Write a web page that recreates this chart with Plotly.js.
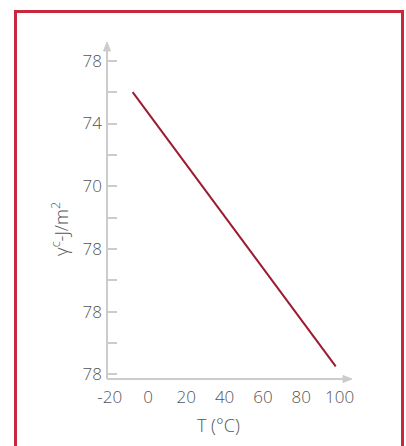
<!DOCTYPE html>
<html>
<head>
<meta charset="utf-8">
<script src="https://cdn.plot.ly/plotly-3.0.1.min.js"></script>
<style>
html,body{margin:0;padding:0;background:#fff;}
#wrap{position:relative;width:406px;height:446px;}
#chart{width:406px;height:446px;}
#frame{position:absolute;left:14px;top:10px;width:384px;height:450px;border:3px solid #c8283c;pointer-events:none;}
</style>
</head>
<body>
<div id="wrap"><div id="chart"></div><div id="frame"></div></div>
<script>
// Data
const temperature = [-8, 98];
const surfaceTension = [76, 58.5];
const yTickValues = [58, 62, 66, 70, 74, 78];
const yTickLabels = ["78", "78", "78", "70", "74", "78"];
const yMinorTicks = [60, 64, 68, 72, 76];
const xTickValues = [-20, 0, 20, 40, 60, 80, 100];
const xTickLabels = ["-20", "0", "20", "40", "60", "80", "100"];

const xRange = [-21.4, 106.5];
const yRange = [57.7, 79.2];
const axisColor = '#cccccc';
const textColor = '#555555';
const fontFam = '"Open Sans", "Source Sans Pro", Lato, sans-serif';
const fsize = 17;

const M = {l: 107, r: 54, t: 42, b: 67};
const plotW = 406 - M.l - M.r, plotH = 446 - M.t - M.b;
const ux = 1 / plotW;   // paper units per pixel
const uy = 1 / plotH;

const headLen = 9, headHalf = 3.5;
const shapes = [
  {type: 'line', xref: 'paper', yref: 'paper', x0: 0, y0: 0, x1: 1 - headLen * ux, y1: 0,
   line: {color: axisColor, width: 2}},
  {type: 'line', xref: 'paper', yref: 'paper', x0: 0, y0: 0, x1: 0, y1: 1 - headLen * uy,
   line: {color: axisColor, width: 2}},
  {type: 'path', xref: 'paper', yref: 'paper', fillcolor: axisColor, line: {color: axisColor, width: 1},
   path: `M1,0 L${1 - headLen * ux},${headHalf * uy} L${1 - headLen * ux},${-headHalf * uy} Z`},
  {type: 'path', xref: 'paper', yref: 'paper', fillcolor: axisColor, line: {color: axisColor, width: 1},
   path: `M0,1 L${-headHalf * ux},${1 - headLen * uy} L${headHalf * ux},${1 - headLen * uy} Z`}
];

const trace = {
  x: temperature, y: surfaceTension, type: 'scatter', mode: 'lines',
  line: {color: '#9b1b30', width: 2}, hoverinfo: 'skip', cliponaxis: false
};

const tf = {family: fontFam, size: fsize, color: textColor, weight: 300};
const titleFont = {family: fontFam, size: 18, color: textColor, weight: 300};

const layout = {
  width: 406, height: 446,
  margin: M,
  paper_bgcolor: '#fff', plot_bgcolor: '#fff',
  showlegend: false,
  font: tf,
  xaxis: {
    range: xRange, showgrid: false, zeroline: false, showline: false,
    tickvals: xTickValues, ticktext: xTickLabels, ticks: '',
    ticklabelstandoff: 6,
    tickfont: tf, fixedrange: true
  },
  yaxis: {
    range: yRange, showgrid: false, zeroline: false, showline: false,
    tickvals: yTickValues, ticktext: yTickLabels,
    ticks: 'inside', ticklen: 10, tickwidth: 2, tickcolor: axisColor,
    ticklabelstandoff: 4,
    minor: {tickvals: yMinorTicks, ticks: 'inside', ticklen: 10, tickwidth: 2, tickcolor: axisColor},
    tickfont: tf, fixedrange: true
  },
  shapes: shapes,
  annotations: [
    {text: 'T (°C)', xref: 'paper', yref: 'paper', x: (218 - M.l) / plotW, y: -(425 - 379) / plotH,
     xanchor: 'center', yanchor: 'middle', showarrow: false, font: titleFont},
    {text: 'γ<sup>c</sup>-J/m<sup>2</sup>', xref: 'paper', yref: 'paper', x: -(M.l - 60) / plotW, y: (379 - 229) / plotH,
     xanchor: 'center', yanchor: 'middle', textangle: -90, showarrow: false, font: titleFont}
  ]
};

Plotly.newPlot('chart', [trace], layout, {staticPlot: true, displayModeBar: false});
</script>
</body>
</html>
